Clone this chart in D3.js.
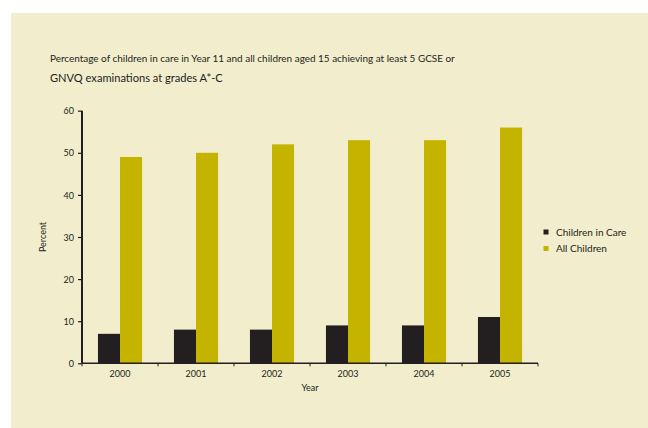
<!DOCTYPE html>
<html>
<head>
<meta charset="utf-8">
<script src="https://cdn.jsdelivr.net/npm/d3@7"></script>
<style>
  html, body { margin: 0; padding: 0; background: #ffffff; }
  svg { display: block; }
  text { font-family: "Lato", "DejaVu Sans", sans-serif; fill: #231f20; }
</style>
</head>
<body>
<svg id="chart" width="648" height="428"></svg>
<script>
const years = ["2000", "2001", "2002", "2003", "2004", "2005"];
const seriesNames = ["Children in Care", "All Children"];
const childrenInCare = [7, 8, 8, 9, 9, 11];
const allChildren = [49, 50, 52, 53, 53, 56];
const yTicks = [0, 10, 20, 30, 40, 50, 60];
const titleLines = [
  "Percentage of children in care in Year 11 and all children aged 15 achieving at least 5 GCSE or",
  "GNVQ examinations at grades A*-C"
];
const colors = ["#231f20", "#c4b400"];

const svg = d3.select("#chart");
svg.append("rect").attr("x", 11).attr("y", 13).attr("width", 637).attr("height", 415).attr("fill", "#f2edcc");

// title
const t1 = svg.append("text").attr("x", 50).attr("y", 62).attr("font-size", 10).text(titleLines[0]);
const t2 = svg.append("text").attr("x", 50).attr("y", 82).attr("font-size", 12.5).text(titleLines[1]);
function fitWidth(sel, target) {
  const w = sel.node().getComputedTextLength();
  const fs = +sel.attr("font-size");
  sel.attr("font-size", fs * target / w);
}
fitWidth(t1, 405);
fitWidth(t2, 173);

const x0 = 82, x1 = 538, yTop = 110.7, yBot = 363.3;
const x = d3.scaleBand().domain(years).range([x0, x1]).paddingInner(0.42).paddingOuter(0.21);
const xs = d3.scaleBand().domain(seriesNames).range([0, x.bandwidth()]);
const y = d3.scaleLinear().domain([0, 60]).range([yBot, yTop]);

const series = [childrenInCare, allChildren];
series.forEach((vals, si) => {
  svg.append("g").selectAll("rect").data(vals).join("rect")
    .attr("x", (d, i) => x(years[i]) + xs(seriesNames[si]))
    .attr("y", d => y(d))
    .attr("width", xs.bandwidth())
    .attr("height", d => y(0) - y(d))
    .attr("fill", colors[si]);
});

// y axis
const yAxis = d3.axisLeft(y).tickValues(yTicks).tickSize(4).tickPadding(4);
const gy = svg.append("g").attr("transform", `translate(${x0},0)`).call(yAxis);
gy.select(".domain").attr("stroke", "#231f20").attr("stroke-width", 2).attr("d", `M0,${yTop}V${yBot}`);
gy.selectAll(".tick line").attr("stroke", "#231f20").attr("stroke-width", 1.2);
gy.selectAll(".tick text").attr("font-family", "Lato, sans-serif").attr("font-size", 9).attr("fill", "#231f20").attr("dy", "0.35em");

// x axis with ticks at band boundaries
const gx = svg.append("g").attr("transform", `translate(0,${yBot})`);
const xAxis = d3.axisBottom(x).tickSize(0).tickPadding(7);
gx.call(xAxis);
gx.select(".domain").attr("stroke", "#231f20").attr("stroke-width", 1.5).attr("d", `M${x0},0H${x1}`);
gx.selectAll(".tick text").attr("font-family", "Lato, sans-serif").attr("font-size", 9).attr("fill", "#231f20").attr("dy", "0.71em");
const step = x.step();
const bounds = d3.range(years.length + 1).map(i => x0 + i * step);
gx.selectAll("line.bt").data(bounds).join("line").attr("class", "bt")
  .attr("x1", d => d).attr("x2", d => d).attr("y1", 0).attr("y2", 3)
  .attr("stroke", "#231f20").attr("stroke-width", 1);

// axis titles
svg.append("text").attr("x", (x0 + x1) / 2).attr("y", 391).attr("text-anchor", "middle").attr("font-size", 9).text("Year");
svg.append("text").attr("transform", `translate(46,${(yTop + yBot) / 2}) rotate(-90)`).attr("text-anchor", "middle").attr("font-size", 9).text("Percent");

// legend
const lg = svg.append("g");
seriesNames.forEach((name, i) => {
  const ly = 232 + i * 16.5;
  lg.append("rect").attr("x", 543.5).attr("y", ly - 2.5).attr("width", 5).attr("height", 5).attr("fill", colors[i]);
  lg.append("text").attr("x", 556).attr("y", ly).attr("dy", "0.35em").attr("font-size", 10).text(name);
});
</script>
</body>
</html>
